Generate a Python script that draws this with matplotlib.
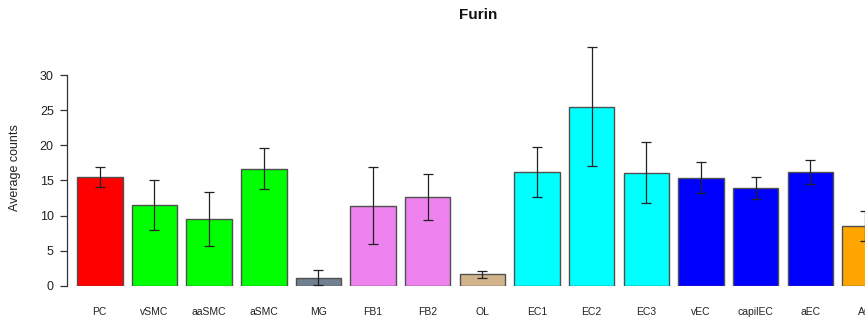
import matplotlib
matplotlib.use("Agg")
import matplotlib.pyplot as plt
import numpy as np

# ---- data ----
cell_types = ["PC", "vSMC", "aaSMC", "aSMC", "MG", "FB1", "FB2", "OL",
              "EC1", "EC2", "EC3", "vEC", "capilEC", "aEC", "AC"]
means = [15.45, 11.5, 9.55, 16.6, 1.1, 11.35, 12.6, 1.6,
         16.15, 25.5, 16.1, 15.4, 13.85, 16.2, 8.55]
err_low = [14.1, 8.0, 5.7, 13.8, 0.05, 5.9, 9.3, 1.15,
           12.6, 17.05, 11.8, 13.25, 12.4, 14.55, 6.4]
err_high = [16.85, 15.0, 13.4, 19.55, 2.2, 16.85, 15.85, 2.1,
            19.75, 34.0, 20.4, 17.55, 15.45, 17.9, 10.7]
bar_colors = ["#FF0000", "#00FF00", "#00FF00", "#00FF00", "#708090", "#EE82EE",
              "#EE82EE", "#D2B48C", "#00FFFF", "#00FFFF", "#00FFFF", "#0000FF",
              "#0000FF", "#0000FF", "#FFA500"]

W, H, DPI = 865, 322, 100
plt.rcParams["font.family"] = ["Liberation Sans", "DejaVu Sans"]

fig = plt.figure(figsize=(W / DPI, H / DPI), dpi=DPI)
# axes placed in pixel terms (R barplot layout, right side cropped)
left_px, bottom_px, top_px = 67, 285.7, 40.0
ax = fig.add_axes([left_px / W, (H - bottom_px) / H, 1 - left_px / W, (bottom_px - top_px) / H])

x = np.arange(len(cell_types)) * 1.2 + 0.7      # R barplot positions, space=0.2
m = np.array(means)
yerr = [m - np.array(err_low), np.array(err_high) - m]

ax.bar(x, m, width=1.0, color=bar_colors, edgecolor="#505050", linewidth=1.0)
ax.errorbar(x, m, yerr=yerr, fmt="none", ecolor="#222222", elinewidth=0.9,
            capsize=3.3, capthick=0.9, clip_on=False)

px_per_unit = 54.7 / 1.2
ax.set_xlim(0.2 - (77 - left_px) / px_per_unit, 0.2 + (W - 77) / px_per_unit)
ax.set_ylim(0, 35)

for s in ["top", "right", "bottom"]:
    ax.spines[s].set_visible(False)
ax.spines["left"].set_bounds(0, 30)
ax.spines["left"].set_color("#333333")
ax.spines["left"].set_linewidth(0.9)

ax.set_yticks([0, 5, 10, 15, 20, 25, 30])
ax.tick_params(axis="y", length=5, width=0.9, color="#333333", pad=4.5,
               labelsize=9, labelcolor="#222222")
ax.set_xticks(x)
ax.set_xticklabels(cell_types)
ax.tick_params(axis="x", length=0, pad=15.5, labelsize=7.5, labelcolor="#222222")

fig.text(15 / W, (H - 168) / H, "Average counts", rotation=90, ha="center",
         va="center", fontsize=9, color="#222222")
fig.text(478 / W, (H - 15) / H, "Furin", ha="center", va="center",
         fontsize=11, fontweight="bold", color="#111111")

fig.savefig("out.png", dpi=DPI)
